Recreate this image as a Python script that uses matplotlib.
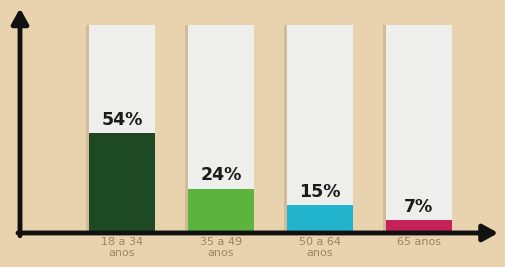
import matplotlib.pyplot as plt

# Data
categories = ["18 a 34\nanos", "35 a 49\nanos", "50 a 64\nanos", "65 anos"]
values = [54, 24, 15, 7]
labels = ["54%", "24%", "15%", "7%"]
colors = ["#1d4a22", "#5cb33e", "#22b4cc", "#c6225a"]

bg = "#e9d3ae"
fig = plt.figure(figsize=(5.06, 2.67), dpi=100)
fig.patch.set_facecolor(bg)
ax = fig.add_axes([0, 0, 1, 1])
ax.set_facecolor(bg)
ax.set_xlim(-1.232, 3.879)
ax.set_ylim(-18.4, 126.0)
ax.axis("off")

x = list(range(len(values)))
width = 0.66
full = [114] * len(values)
base = -1.3

# white "tube" bars with a soft shadow
ax.bar([i - 0.03 for i in x], full, width=width, bottom=base, color="#8a7a62", alpha=0.25, zorder=1)
ax.bar(x, full, width=width, bottom=base, color="#eeeeec", zorder=2)

# coloured fills
ax.bar(x, [v - base for v in values], width=width, bottom=base, color=colors, zorder=3)

for i, (v, lab) in enumerate(zip(values, labels)):
    ax.annotate(lab, (i, v), xytext=(0, 3), textcoords="offset points",
                ha="center", va="bottom", fontsize=12.5, fontweight="heavy",
                color="#1a1a1a", zorder=4)
    ax.text(i, -2.2, categories[i], ha="center", va="top", fontsize=8,
            color="#9a8468", family=["Liberation Sans Narrow", "DejaVu Sans"],
            linespacing=1.1, zorder=4)

# axes arrows
arrow = dict(arrowstyle="-|>,head_length=0.9,head_width=0.5", color="#111111", lw=3.5,
             shrinkA=0, shrinkB=0)
ax.annotate("", xy=(-1.03, 121.5), xytext=(-1.03, -1.5), arrowprops=arrow, zorder=5)
ax.annotate("", xy=(3.8, 0), xytext=(-1.05, 0), arrowprops=arrow, zorder=5)

plt.savefig("out.png", dpi=100, facecolor=bg)
